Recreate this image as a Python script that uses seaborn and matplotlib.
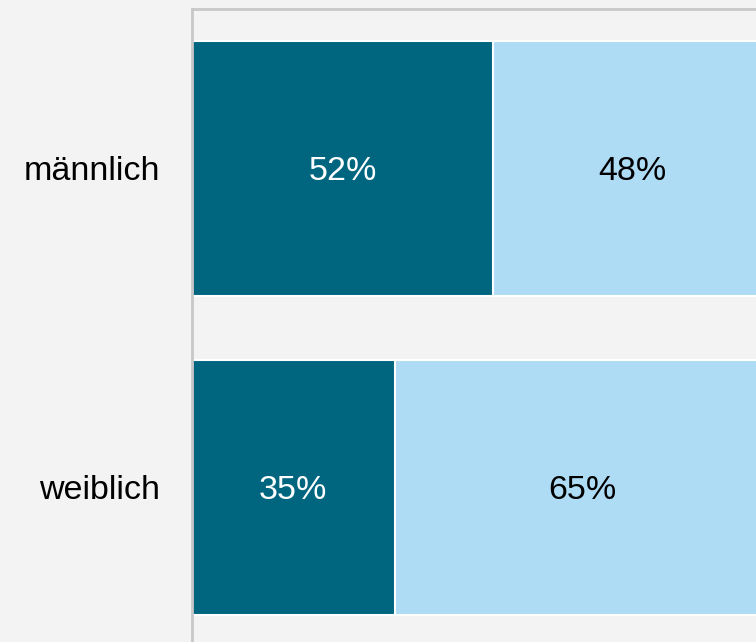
import numpy as np
import pandas as pd
import seaborn as sns
import matplotlib.pyplot as plt

# data
categories = ["männlich", "weiblich"]
share_dark = [52, 35]
share_light = [48, 65]

dark = "#00667f"
light = "#aedcf5"
bg = "#f3f3f3"

df = pd.DataFrame({"group": categories, "dark": share_dark, "light": share_light})
df["total"] = df["dark"] + df["light"]

sns.set_theme(style="white")
plt.rcParams['font.family'] = ['Liberation Sans', 'DejaVu Sans']

fig = plt.figure(figsize=(7.56, 6.42), dpi=100, facecolor=bg)
# axes run past the right/bottom edge of the picture (reference is cropped)
ax = fig.add_axes([192 / 756, 1 - 646.5 / 642, (771 - 192) / 756, (646.5 - 9) / 642])
ax.set_facecolor(bg)

sns.barplot(data=df, x="total", y="group", color=light, width=0.8, saturation=1,
            edgecolor="white", linewidth=1.5, ax=ax)
sns.barplot(data=df, x="dark", y="group", color=dark, width=0.8, saturation=1,
            edgecolor="white", linewidth=1.5, ax=ax)

fs = 24.5
for i, row in df.iterrows():
    ax.text(row["dark"] / 2, i, f"{row['dark']}%", color="white", fontsize=fs,
            ha="center", va="center_baseline")
    ax.text(row["dark"] + row["light"] / 2, i, f"{row['light']}%", color="black",
            fontsize=fs, ha="center", va="center_baseline")

ax.set_xlim(0, 100)
ax.set_ylim(1.5, -0.5)
ax.set_xlabel("")
ax.set_ylabel("")
ax.set_xticks([])
ax.tick_params(axis="y", length=0, pad=23, labelsize=fs, labelcolor="black")

for s in ["right", "bottom"]:
    ax.spines[s].set_visible(False)
for s in ["top", "left"]:
    ax.spines[s].set_color("#c8c8c8")
    ax.spines[s].set_linewidth(2)

fig.savefig("out.png", dpi=100, facecolor=bg)
